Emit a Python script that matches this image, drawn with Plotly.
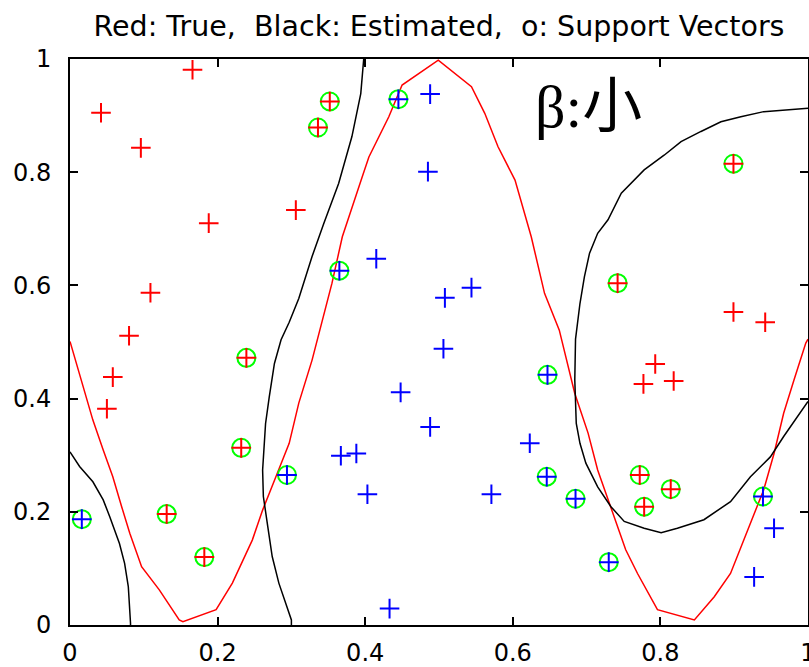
import plotly.graph_objects as go

# ---- data ----
red_x = [0.042, 0.166, 0.096, 0.188, 0.306, 0.109, 0.080, 0.058, 0.050, 0.899, 0.942, 0.793, 0.777, 0.818,
         0.352, 0.336, 0.239, 0.232, 0.131, 0.182, 0.899, 0.742, 0.772, 0.778, 0.814]
red_y = [0.905, 0.981, 0.843, 0.710, 0.733, 0.587, 0.511, 0.438, 0.382, 0.553, 0.535, 0.461, 0.426, 0.431,
         0.925, 0.879, 0.472, 0.313, 0.196, 0.120, 0.815, 0.604, 0.265, 0.209, 0.240]

blue_x = [0.488, 0.485, 0.415, 0.508, 0.544, 0.506, 0.448, 0.488, 0.367, 0.388, 0.403, 0.571, 0.623, 0.433, 0.954, 0.927,
          0.016, 0.294, 0.445, 0.365, 0.647, 0.646, 0.685, 0.730, 0.939]
blue_y = [0.938, 0.801, 0.647, 0.578, 0.596, 0.488, 0.411, 0.350, 0.299, 0.303, 0.231, 0.231, 0.321, 0.029, 0.171, 0.085,
          0.187, 0.265, 0.929, 0.626, 0.442, 0.262, 0.223, 0.111, 0.227]

sv_x = [0.352, 0.336, 0.239, 0.232, 0.131, 0.182, 0.899, 0.742, 0.772, 0.778, 0.814,
        0.016, 0.294, 0.445, 0.365, 0.647, 0.646, 0.685, 0.730, 0.939]
sv_y = [0.925, 0.879, 0.472, 0.313, 0.196, 0.120, 0.815, 0.604, 0.265, 0.209, 0.240,
        0.187, 0.265, 0.929, 0.626, 0.442, 0.262, 0.223, 0.111, 0.227]

true_x = [0.000, 0.018, 0.031, 0.045, 0.058, 0.070, 0.081, 0.097, 0.121, 0.148, 0.153, 0.198, 0.220, 0.247,
          0.261, 0.279, 0.297, 0.310, 0.328, 0.355, 0.369, 0.396, 0.405, 0.432, 0.450, 0.499, 0.544, 0.562,
          0.580, 0.603, 0.625, 0.643, 0.663, 0.684, 0.702, 0.715, 0.738, 0.753, 0.769, 0.796, 0.846, 0.873,
          0.895, 0.918, 0.940, 0.954, 0.967, 0.981, 0.997, 1.000]
true_y = [0.501, 0.418, 0.362, 0.309, 0.262, 0.209, 0.162, 0.103, 0.062, 0.009, 0.006, 0.027, 0.074, 0.150,
          0.203, 0.262, 0.321, 0.392, 0.468, 0.604, 0.686, 0.792, 0.827, 0.898, 0.954, 0.998, 0.951, 0.904,
          0.845, 0.786, 0.686, 0.586, 0.521, 0.409, 0.339, 0.274, 0.191, 0.133, 0.091, 0.027, 0.009, 0.050,
          0.091, 0.168, 0.239, 0.303, 0.374, 0.433, 0.498, 0.505]

est1_x = [0.000, 0.013, 0.031, 0.045, 0.054, 0.067, 0.074, 0.079, 0.082, 0.082]
est1_y = [0.306, 0.280, 0.253, 0.221, 0.191, 0.144, 0.109, 0.068, 0.003, 0.000]

est2_x = [0.300, 0.300, 0.283, 0.274, 0.268, 0.262, 0.261, 0.265, 0.270, 0.277, 0.286, 0.297, 0.310, 0.328,
          0.344, 0.364, 0.382, 0.394, 0.398]
est2_y = [0.000, 0.009, 0.074, 0.121, 0.174, 0.227, 0.274, 0.356, 0.403, 0.462, 0.504, 0.535, 0.577, 0.651,
          0.710, 0.780, 0.863, 0.939, 1.000]

est3_x = [1.000, 0.972, 0.940, 0.909, 0.882, 0.855, 0.828, 0.805, 0.778, 0.747, 0.729, 0.715, 0.704, 0.697,
          0.691, 0.685, 0.684, 0.686, 0.691, 0.699, 0.715, 0.733, 0.751, 0.778, 0.801, 0.823, 0.859, 0.895,
          0.922, 0.949, 0.967, 1.000]
est3_y = [0.913, 0.910, 0.907, 0.898, 0.889, 0.872, 0.854, 0.830, 0.804, 0.763, 0.716, 0.692, 0.657, 0.615,
          0.568, 0.505, 0.433, 0.356, 0.321, 0.286, 0.244, 0.209, 0.183, 0.171, 0.163, 0.171, 0.186, 0.218,
          0.262, 0.297, 0.333, 0.395]

tick_vals = [0, 0.2, 0.4, 0.6, 0.8, 1]
tick_text = ["0", "0.2", "0.4", "0.6", "0.8", "1"]

title_text = "Red: True,\u00a0\u00a0Black: Estimated,\u00a0\u00a0o: Support Vectors"
note_text = "β:小"

fig = go.Figure()

fig.add_trace(go.Scatter(x=true_x, y=true_y, mode="lines",
                         line=dict(color="#ff0000", width=1.5), hoverinfo="skip"))
for ex, ey in [(est1_x, est1_y), (est2_x, est2_y), (est3_x, est3_y)]:
    fig.add_trace(go.Scatter(x=ex, y=ey, mode="lines",
                             line=dict(color="#000000", width=1.5), hoverinfo="skip"))

fig.add_trace(go.Scatter(x=sv_x, y=sv_y, mode="markers",
                         marker=dict(symbol="circle-open", size=18, color="#00ff00",
                                     line=dict(color="#00ff00", width=2))))
fig.add_trace(go.Scatter(x=red_x, y=red_y, mode="markers",
                         marker=dict(symbol="cross-thin", size=14, color="#ff0000",
                                     line=dict(color="#ff0000", width=2))))
fig.add_trace(go.Scatter(x=blue_x, y=blue_y, mode="markers",
                         marker=dict(symbol="cross-thin", size=14, color="#0000ff",
                                     line=dict(color="#0000ff", width=2))))

axis_common = dict(range=[0, 1], tickvals=tick_vals, ticktext=tick_text, automargin=False,
                   showline=True, linecolor="#000000", linewidth=2, mirror="ticks",
                   ticks="inside", ticklen=8, tickwidth=2, tickcolor="#000000",
                   showgrid=False, zeroline=False, ticklabeloverflow="allow",
                   tickfont=dict(family="DejaVu Sans", size=24, color="#000000"))

fig.update_layout(
    width=809, height=667,
    margin=dict(l=70, r=1, t=59, b=42, autoexpand=False),
    paper_bgcolor="white", plot_bgcolor="white",
    showlegend=False,
    title=dict(text=title_text, x=0.5, xref="paper", xanchor="center",
               y=1 - 26 / 667, yref="container", yanchor="middle", automargin=False,
               font=dict(family="DejaVu Sans", size=28.5, color="#000000")),
    xaxis=dict(axis_common, ticklabelstandoff=5),
    yaxis=dict(axis_common, ticklabelstandoff=12),
    annotations=[dict(text=note_text, x=0.702, y=0.915, xref="x", yref="y",
                      showarrow=False, xanchor="center", yanchor="middle",
                      font=dict(family="Liberation Serif, Noto Sans CJK JP", size=60, color="#000000"))],
)

fig.write_html("out.html", config={"displayModeBar": False},
               post_script="document.body.style.margin='0';document.body.style.overflow='hidden';")
